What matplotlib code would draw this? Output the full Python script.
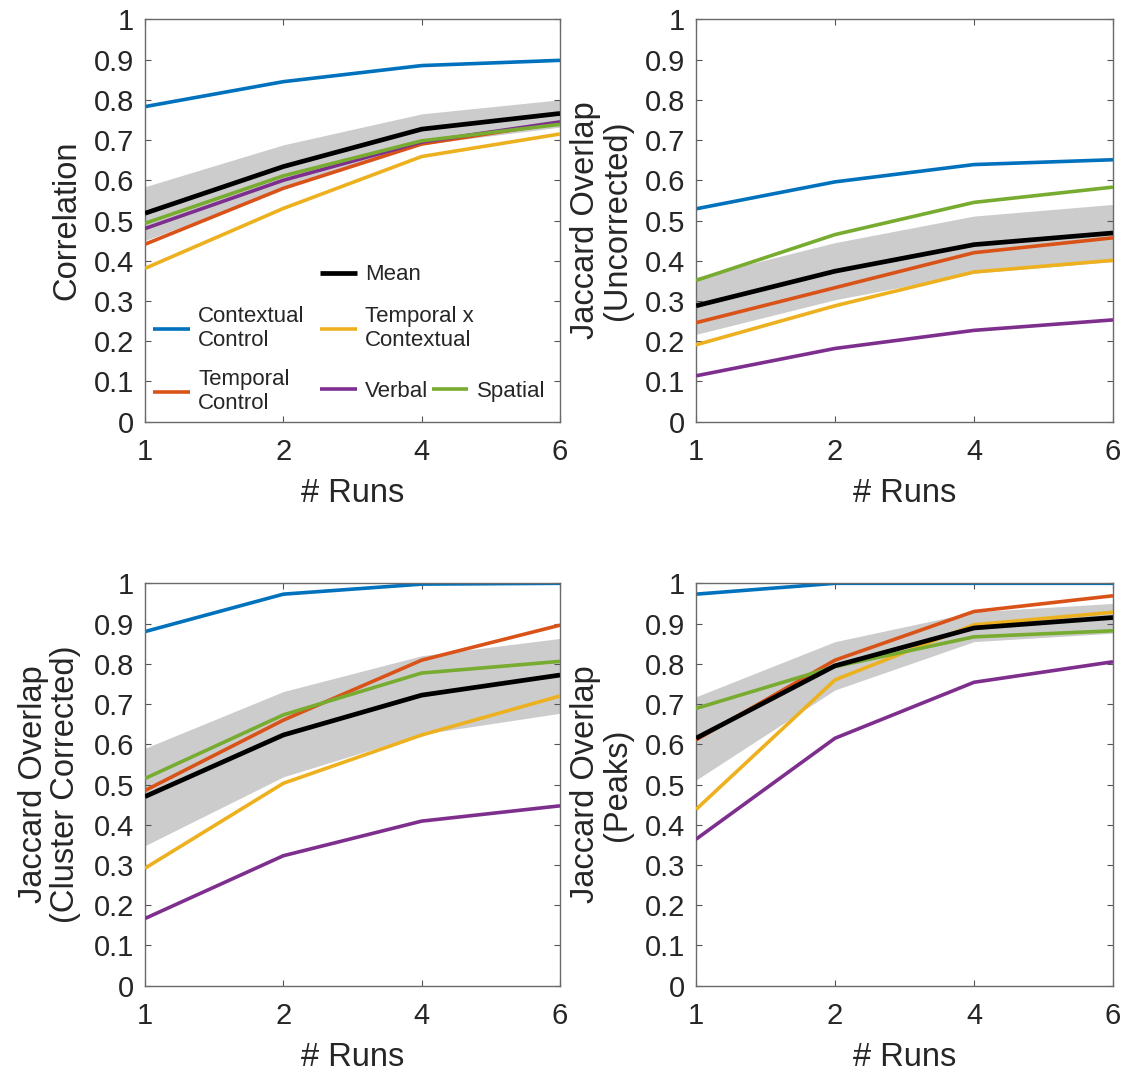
import matplotlib
matplotlib.use("Agg")
import matplotlib.pyplot as plt
import numpy as np

plt.rcParams['font.family'] = ['Liberation Sans', 'DejaVu Sans']

# ---------------- data ----------------
runs = ['1', '2', '4', '6']
series_names = ['Contextual\nControl', 'Temporal\nControl', 'Temporal x\nContextual', 'Verbal', 'Spatial']
series_colors = ['#0072BD', '#D95319', '#EDB120', '#7E2F8E', '#77AC30']

# Panel A: Correlation
corr_contextual = [0.783, 0.845, 0.885, 0.898]
corr_temporal = [0.441, 0.580, 0.690, 0.743]
corr_txc = [0.381, 0.530, 0.659, 0.715]
corr_verbal = [0.480, 0.600, 0.695, 0.745]
corr_spatial = [0.493, 0.611, 0.698, 0.739]
corr_mean = [0.518, 0.634, 0.727, 0.766]
corr_upper = [0.584, 0.688, 0.765, 0.800]
corr_lower = [0.450, 0.580, 0.689, 0.732]

# Panel B: Jaccard overlap (uncorrected)
unc_contextual = [0.529, 0.596, 0.639, 0.651]
unc_temporal = [0.246, 0.333, 0.420, 0.457]
unc_txc = [0.191, 0.288, 0.372, 0.401]
unc_verbal = [0.114, 0.182, 0.227, 0.253]
unc_spatial = [0.351, 0.465, 0.545, 0.583]
unc_mean = [0.288, 0.374, 0.440, 0.469]
unc_upper = [0.359, 0.445, 0.511, 0.540]
unc_lower = [0.217, 0.303, 0.369, 0.398]

# Panel C: Jaccard overlap (cluster corrected)
clu_contextual = [0.880, 0.973, 0.998, 1.000]
clu_temporal = [0.485, 0.660, 0.809, 0.896]
clu_txc = [0.292, 0.503, 0.623, 0.720]
clu_verbal = [0.167, 0.323, 0.409, 0.447]
clu_spatial = [0.515, 0.673, 0.777, 0.806]
clu_mean = [0.470, 0.623, 0.722, 0.772]
clu_upper = [0.590, 0.731, 0.820, 0.863]
clu_lower = [0.348, 0.519, 0.625, 0.677]

# Panel D: Jaccard overlap (peaks)
pk_contextual = [0.973, 1.000, 1.000, 1.000]
pk_temporal = [0.611, 0.809, 0.930, 0.969]
pk_txc = [0.438, 0.760, 0.897, 0.928]
pk_verbal = [0.364, 0.615, 0.754, 0.805]
pk_spatial = [0.689, 0.793, 0.867, 0.882]
pk_mean = [0.615, 0.795, 0.889, 0.915]
pk_upper = [0.718, 0.855, 0.929, 0.950]
pk_lower = [0.511, 0.735, 0.855, 0.876]

ylabels = ['Correlation', 'Jaccard Overlap\n(Uncorrected)',
           'Jaccard Overlap\n(Cluster Corrected)', 'Jaccard Overlap\n(Peaks)']
yticks = [0, 0.1, 0.2, 0.3, 0.4, 0.5, 0.6, 0.7, 0.8, 0.9, 1.0]
ytick_labels = ['0', '0.1', '0.2', '0.3', '0.4', '0.5', '0.6', '0.7', '0.8', '0.9', '1']

panels = [
    ([corr_contextual, corr_temporal, corr_txc, corr_verbal, corr_spatial], corr_mean, corr_upper, corr_lower),
    ([unc_contextual, unc_temporal, unc_txc, unc_verbal, unc_spatial], unc_mean, unc_upper, unc_lower),
    ([clu_contextual, clu_temporal, clu_txc, clu_verbal, clu_spatial], clu_mean, clu_upper, clu_lower),
    ([pk_contextual, pk_temporal, pk_txc, pk_verbal, pk_spatial], pk_mean, pk_upper, pk_lower),
]

TXT = '#262626'
fig = plt.figure(figsize=(11.25, 10.74), dpi=100)
W, H = 1125, 1074
boxes = [(145, 19.3, 560, 421.7), (696, 19.3, 1113, 421.7),
         (145, 583.3, 560, 985.7), (696, 583.3, 1113, 985.7)]
ylabel_x = [-0.152, -0.150, -0.154, -0.150]

x = np.arange(len(runs))
first_ax = None
handles = {}
for i, (series, mean, upper, lower) in enumerate(panels):
    l, t, r, b = boxes[i]
    ax = fig.add_axes([l / W, 1 - b / H, (r - l) / W, (b - t) / H])
    ax.fill_between(x, lower, upper, color='#cccccc', linewidth=0, zorder=1)
    for k in range(len(series)):
        h, = ax.plot(x, series[k], color=series_colors[k], lw=2.6, zorder=2 + k,
                     solid_capstyle='butt', solid_joinstyle='round')
        handles[k] = h
    hm, = ax.plot(x, mean, color='black', lw=3.4, zorder=10, solid_capstyle='butt',
                  solid_joinstyle='round')
    handles['mean'] = hm
    ax.set_xlim(0, 3)
    ax.set_ylim(0, 1)
    ax.set_xticks(x)
    ax.set_xticklabels(runs)
    ax.set_yticks(yticks)
    ax.set_yticklabels(ytick_labels)
    ax.tick_params(direction='in', length=4.5, width=0.8, top=True, right=True,
                   labelsize=21, labelcolor=TXT, color='#555555')
    ax.tick_params(axis='y', pad=8)
    ax.tick_params(axis='x', pad=12)
    for s in ax.spines.values():
        s.set_color('#6a6a6a')
        s.set_linewidth(1.0)
    ax.set_xlabel('# Runs', fontsize=23.5, color=TXT, labelpad=8.5)
    ax.set_ylabel(ylabels[i], fontsize=23.5, color=TXT, linespacing=1.05)
    ax.yaxis.set_label_coords(ylabel_x[i], 0.5)
    if i == 0:
        first_ax = ax

# legend entries in first panel, each placed separately (MATLAB-like layout)
leg_specs = [
    (handles['mean'], 'Mean', 0.422, 0.365),
    (handles[0], series_names[0], 0.020, 0.232),
    (handles[2], series_names[2], 0.422, 0.232),
    (handles[1], series_names[1], 0.020, 0.075),
    (handles[3], series_names[3], 0.422, 0.075),
    (handles[4], series_names[4], 0.691, 0.075),
]
legs = []
for h, lab, lx, ly in leg_specs:
    lg = first_ax.legend([h], [lab], loc='center left', bbox_to_anchor=(lx, ly),
                         frameon=False, fontsize=16, handlelength=1.65,
                         handletextpad=0.37, borderpad=0, borderaxespad=0,
                         labelspacing=0)
    for tx in lg.get_texts():
        tx.set_color(TXT)
        tx.set_linespacing(1.2)
    legs.append(lg)
for lg in legs[:-1]:
    first_ax.add_artist(lg)

fig.savefig('out.png', dpi=100, facecolor='white')
